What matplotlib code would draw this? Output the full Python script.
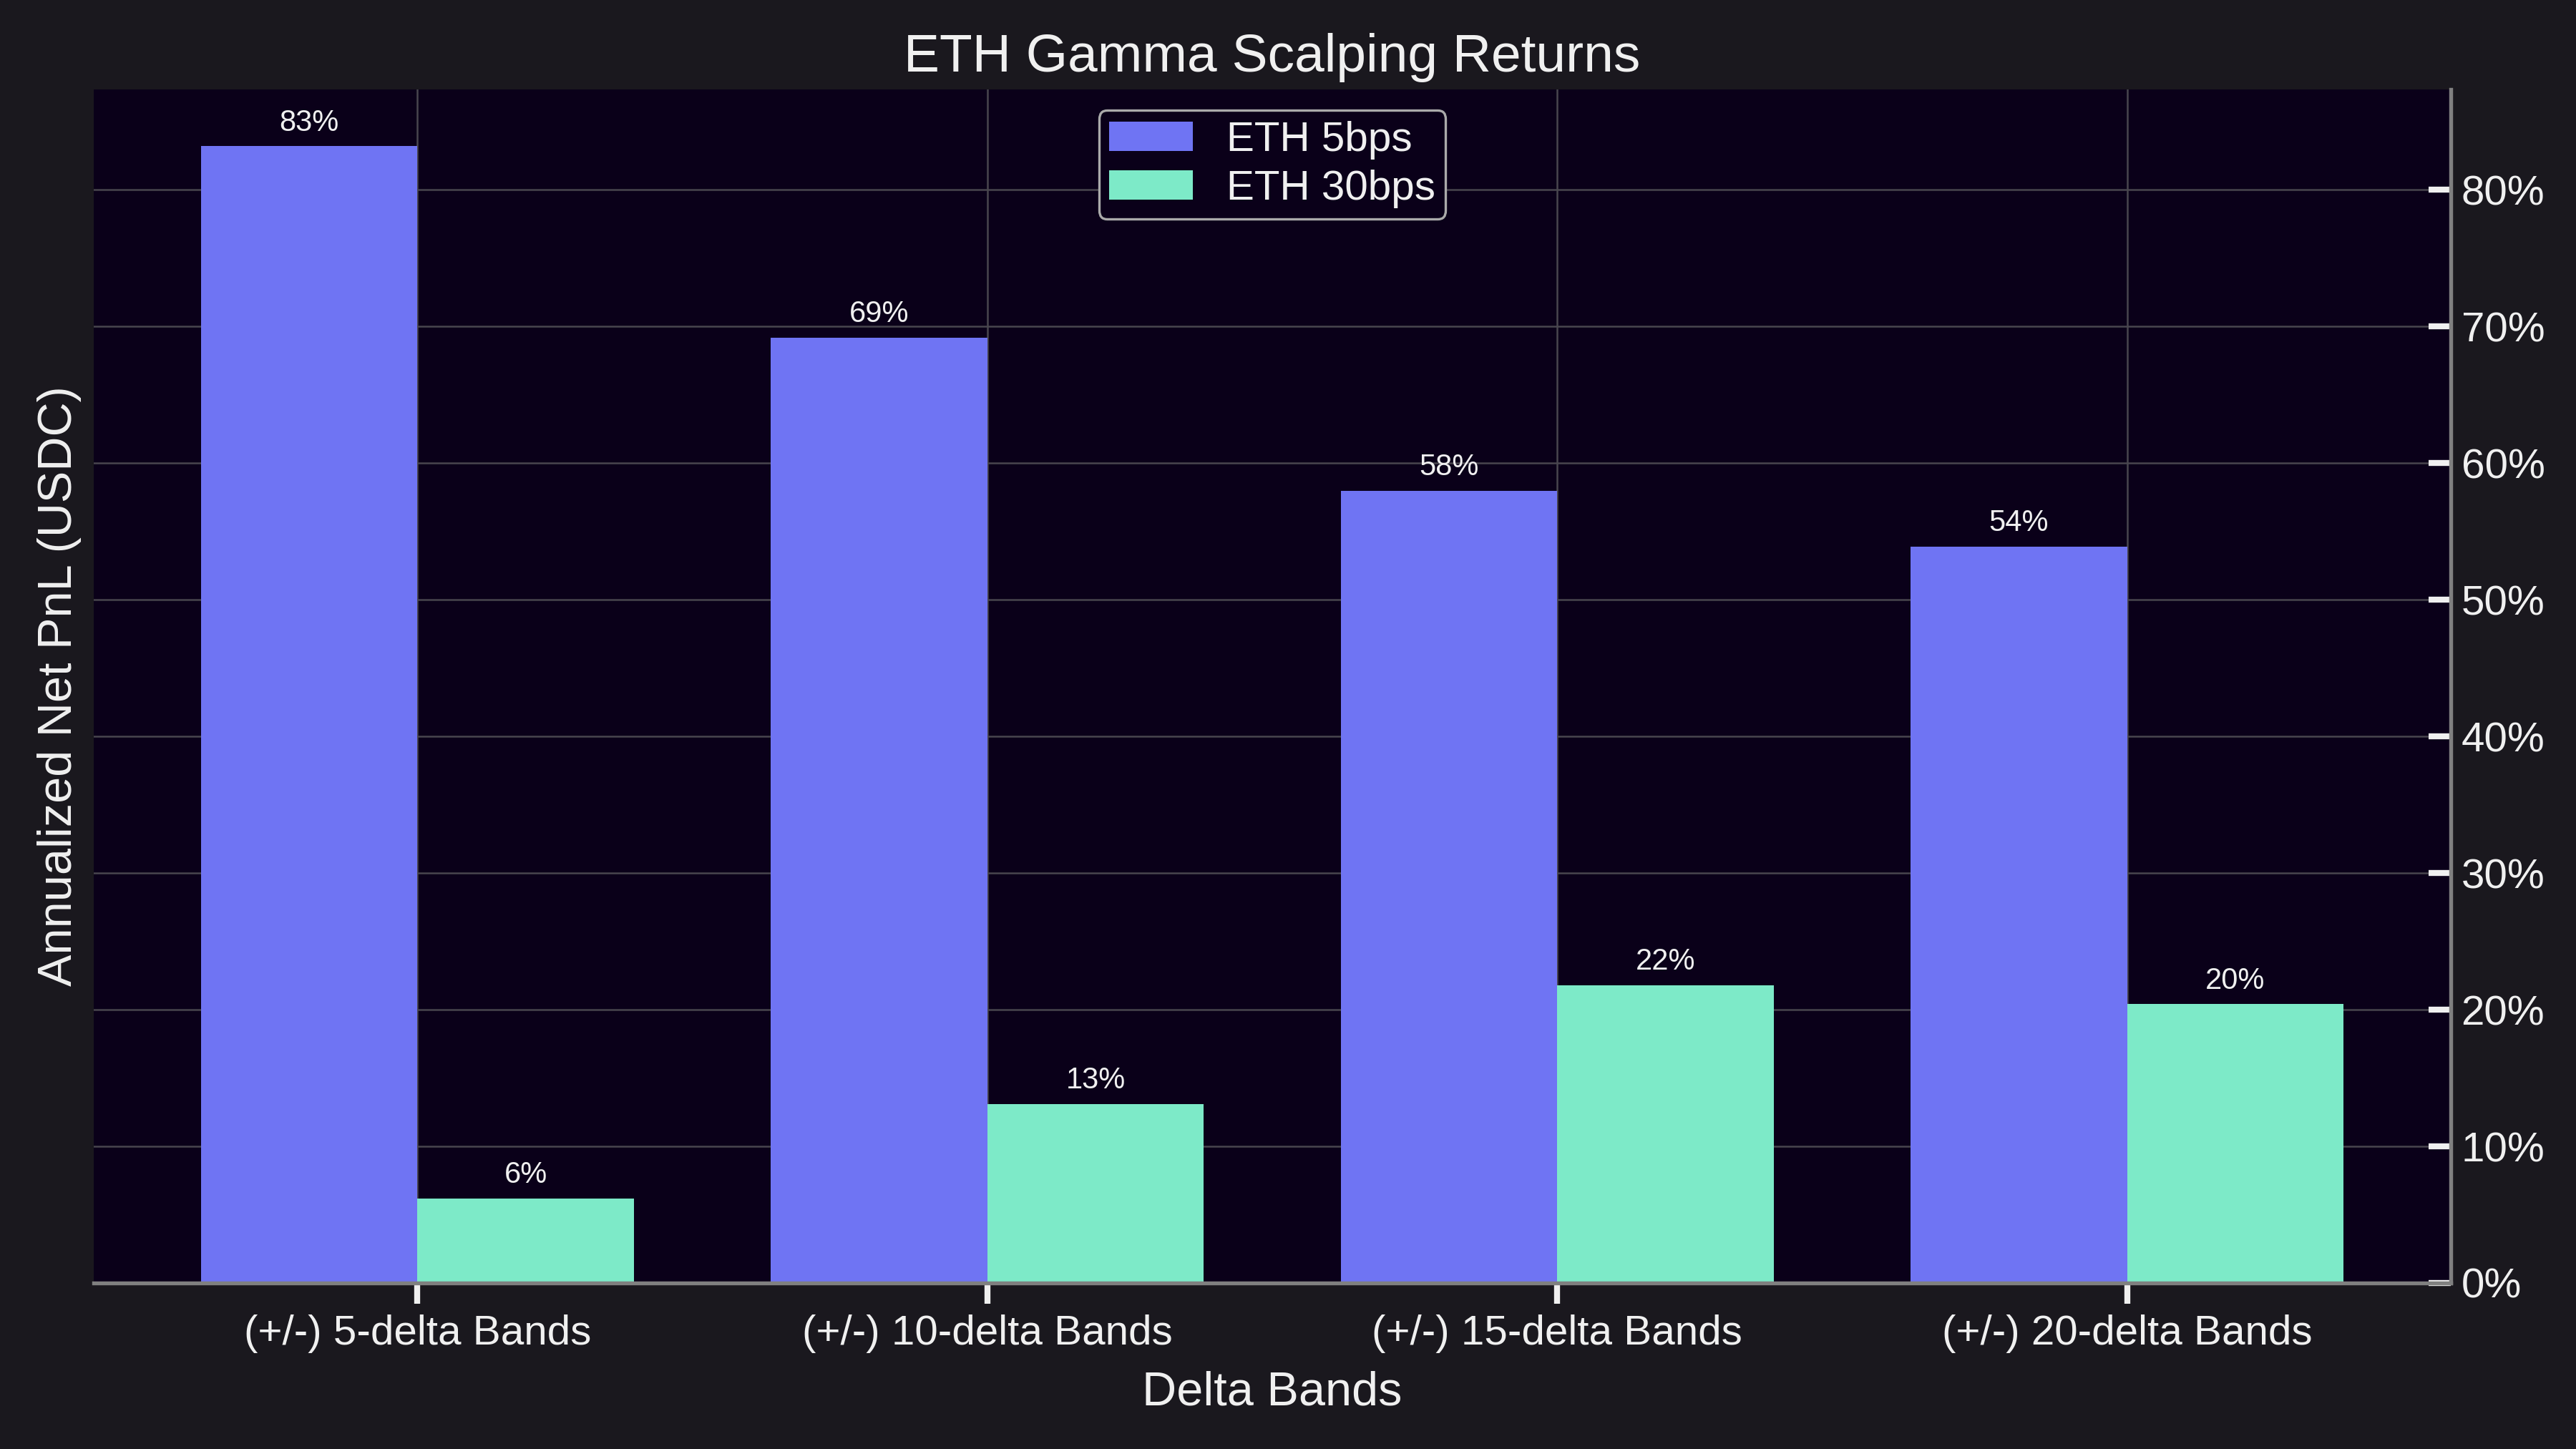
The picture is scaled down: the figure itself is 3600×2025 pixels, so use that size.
import matplotlib
matplotlib.use("Agg")
import matplotlib.pyplot as plt
import numpy as np
from matplotlib.ticker import PercentFormatter

categories = ["(+/-) 5-delta Bands", "(+/-) 10-delta Bands",
              "(+/-) 15-delta Bands", "(+/-) 20-delta Bands"]
eth_5bps = [0.832, 0.692, 0.580, 0.539]
eth_30bps = [0.062, 0.131, 0.218, 0.204]
series_names = ["ETH 5bps", "ETH 30bps"]

FIG_BG = "#1a181e"
AX_BG = "#0a0019"
TEXT = "#f0f0f0"
BLUE = "#6f74f3"
TEAL = "#7deac8"

plt.rcParams["font.family"] = ["Liberation Sans", "DejaVu Sans"]

fig, ax = plt.subplots(figsize=(12, 6.75), dpi=300)
fig.patch.set_facecolor(FIG_BG)
ax.set_facecolor(AX_BG)
fig.subplots_adjust(left=0.0364, right=0.9514, bottom=0.1146, top=0.9383)

x = np.arange(len(categories))
w = 0.38
b1 = ax.bar(x - w / 2, eth_5bps, w, color=BLUE, label=series_names[0], zorder=2)
b2 = ax.bar(x + w / 2, eth_30bps, w, color=TEAL, label=series_names[1], zorder=2)

for bars, vals in ((b1, eth_5bps), (b2, eth_30bps)):
    ax.bar_label(bars, labels=[f"{v*100:.0f}%" for v in vals], padding=3,
                 fontsize=10, color=TEXT)

ax.set_xticks(x)
ax.set_xticklabels(categories)
ax.yaxis.tick_right()
ax.yaxis.set_label_position("left")
ax.yaxis.set_major_formatter(PercentFormatter(xmax=1, decimals=0))

ax.set_title("ETH Gamma Scalping Returns", fontsize=18, color=TEXT)
ax.set_xlabel("Delta Bands", fontsize=16, color=TEXT, labelpad=6)
ax.set_ylabel("Annualized Net PnL (USDC)", fontsize=16, color=TEXT)

ax.tick_params(axis="x", direction="out", length=7, width=2, colors=TEXT,
               labelsize=14)
ax.tick_params(axis="y", direction="in", length=7.5, width=2, colors=TEXT,
               labelsize=14)

ax.grid(True, color="#48464e", linewidth=0.6, zorder=0)
ax.set_axisbelow(True)

for s in ("top", "left"):
    ax.spines[s].set_visible(False)
for s in ("bottom", "right"):
    ax.spines[s].set_color("#808080")
    ax.spines[s].set_linewidth(1.3)

leg = ax.legend(loc="upper center", fontsize=14, facecolor=AX_BG,
                edgecolor="#aaaaaa", framealpha=1.0,
                borderpad=0.25, labelspacing=0.25)
leg.get_frame().set_linewidth(0.8)
for t in leg.get_texts():
    t.set_color(TEXT)

fig.savefig("out.png", dpi=300, facecolor=FIG_BG)
